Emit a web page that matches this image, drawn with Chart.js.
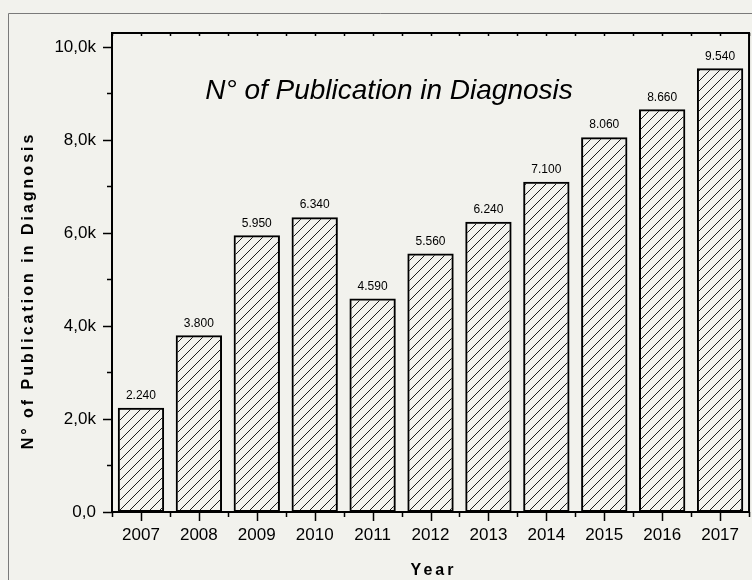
<!DOCTYPE html>
<html>
<head>
<meta charset="utf-8">
<script src="https://cdn.jsdelivr.net/npm/chart.js@4.4.1/dist/chart.umd.min.js"></script>
<style>
  html, body { margin: 0; padding: 0; background: #f2f2ed; }
  #chart { display: block; }
</style>
</head>
<body>
<canvas id="chart" width="752" height="580"></canvas>
<script>
// ------------------------------
// Data
// ------------------------------
const years = ["2007", "2008", "2009", "2010", "2011", "2012", "2013", "2014", "2015", "2016", "2017"];
const publications = [2240, 3800, 5950, 6340, 4590, 5560, 6240, 7100, 8060, 8660, 9540];
const valueLabels = ["2.240", "3.800", "5.950", "6.340", "4.590", "5.560", "6.240", "7.100", "8.060", "8.660", "9.540"];
const yTickValues = [0, 2000, 4000, 6000, 8000, 10000];
const yTickLabels = ["0,0", "2,0k", "4,0k", "6,0k", "8,0k", "10,0k"];
const yMinorTicks = [1000, 3000, 5000, 7000, 9000];
const yMax = 10300;

const chartTitle = "N° of Publication in Diagnosis";
const yTitle = "N° of Publication in Diagnosis";
const xTitle = "Year";

const BG = "#f2f2ed";

// ------------------------------
// Hatch pattern for the bars ( "/" lines )
// ------------------------------
function makeHatch() {
  const c = document.createElement("canvas");
  c.width = 10; c.height = 10;
  const g = c.getContext("2d");
  g.strokeStyle = "#000";
  g.lineWidth = 0.9;
  g.beginPath();
  g.moveTo(-2, 12); g.lineTo(12, -2);
  g.moveTo(-7, 7); g.lineTo(7, -7);
  g.moveTo(3, 17); g.lineTo(17, 3);
  g.stroke();
  return g.createPattern(c, "repeat");
}

// ------------------------------
// Decorations: background, frames, ticks, labels, titles
// ------------------------------
const decorations = {
  id: "decorations",
  beforeDraw(chart) {
    const ctx = chart.ctx;
    ctx.save();
    ctx.fillStyle = BG;
    ctx.fillRect(0, 0, chart.width, chart.height);
    // outer gray frame
    ctx.strokeStyle = "#7a7a7a";
    ctx.lineWidth = 1;
    ctx.beginPath();
    ctx.moveTo(8.5, chart.height + 5);
    ctx.lineTo(8.5, 13.5);
    ctx.lineTo(chart.width + 5, 13.5);
    ctx.stroke();
    ctx.restore();
  },
  afterDatasetsDraw(chart) {
    const ctx = chart.ctx;
    const area = chart.chartArea;
    const x = chart.scales.x;
    const y = chart.scales.y;
    ctx.save();

    // value labels above bars
    const meta = chart.getDatasetMeta(0);
    ctx.fillStyle = "#000";
    ctx.font = "12px Arial, 'Liberation Sans', sans-serif";
    ctx.textAlign = "center";
    ctx.textBaseline = "middle";
    meta.data.forEach((bar, i) => {
      ctx.fillText(valueLabels[i], bar.x, bar.y - 12);
    });

    // plot frame
    ctx.strokeStyle = "#000";
    ctx.lineWidth = 2;
    ctx.strokeRect(area.left, area.top, area.right - area.left, area.bottom - area.top);

    // y ticks
    ctx.lineWidth = 1.5;
    ctx.beginPath();
    yTickValues.forEach(v => {
      const py = Math.round(y.getPixelForValue(v)) + 0.5;
      ctx.moveTo(area.left - 9, py); ctx.lineTo(area.left, py);
    });
    yMinorTicks.forEach(v => {
      const py = Math.round(y.getPixelForValue(v)) + 0.5;
      ctx.moveTo(area.left - 5, py); ctx.lineTo(area.left, py);
    });
    // x ticks: centers (major) and boundaries (minor), top ones point inward
    years.forEach((_, i) => {
      const px = Math.round(x.getPixelForValue(i)) + 0.5;
      ctx.moveTo(px, area.bottom); ctx.lineTo(px, area.bottom + 9);
      ctx.moveTo(px, area.top); ctx.lineTo(px, area.top + 3);
    });
    for (let i = 0; i <= years.length; i++) {
      const px = Math.round(x.getPixelForValue(i - 0.5)) + 0.5;
      ctx.moveTo(px, area.bottom); ctx.lineTo(px, area.bottom + 5);
      ctx.moveTo(px, area.top); ctx.lineTo(px, area.top + 3);
    }
    ctx.stroke();

    // title inside the plot
    ctx.font = "italic 28px Arial, 'Liberation Sans', sans-serif";
    ctx.textAlign = "center";
    ctx.textBaseline = "alphabetic";
    ctx.fillText(chartTitle, 389, 99);

    // axis titles (bold, letter spaced)
    ctx.font = "bold 16px Arial, 'Liberation Sans', sans-serif";
    ctx.letterSpacing = "3px";
    ctx.textBaseline = "middle";
    ctx.fillText(xTitle, 433.5, 571);
    ctx.translate(29, 292);
    ctx.rotate(-Math.PI / 2);
    ctx.fillText(yTitle, 1.5, 0);
    ctx.restore();
  }
};

// ------------------------------
// Chart
// ------------------------------
const ctx = document.getElementById("chart");
new Chart(ctx, {
  type: "bar",
  data: {
    labels: years,
    datasets: [{
      data: publications,
      backgroundColor: makeHatch(),
      borderColor: "#000",
      borderWidth: 2,
      borderSkipped: false,
      barPercentage: 0.8,
      categoryPercentage: 1.0
    }]
  },
  options: {
    responsive: false,
    animation: false,
    layout: { padding: { top: 33, right: 0, left: 0, bottom: 0 } },
    plugins: {
      legend: { display: false },
      tooltip: { enabled: false },
      title: { display: false }
    },
    scales: {
      x: {
        grid: { display: false, drawTicks: false },
        border: { display: false },
        ticks: {
          color: "#000",
          font: { family: "Arial, 'Liberation Sans', sans-serif", size: 17 },
          padding: 13,
          maxRotation: 0
        },
        afterFit: s => { s.height = 68; }
      },
      y: {
        min: 0,
        max: yMax,
        grid: { display: false, drawTicks: false },
        border: { display: false },
        afterBuildTicks: s => { s.ticks = yTickValues.map(v => ({ value: v })); },
        ticks: {
          color: "#000",
          font: { family: "Arial, 'Liberation Sans', sans-serif", size: 17 },
          padding: 16,
          callback: (v, i) => yTickLabels[i]
        },
        afterFit: s => { s.width = 112; }
      }
    }
  },
  plugins: [decorations]
});
</script>
</body>
</html>
